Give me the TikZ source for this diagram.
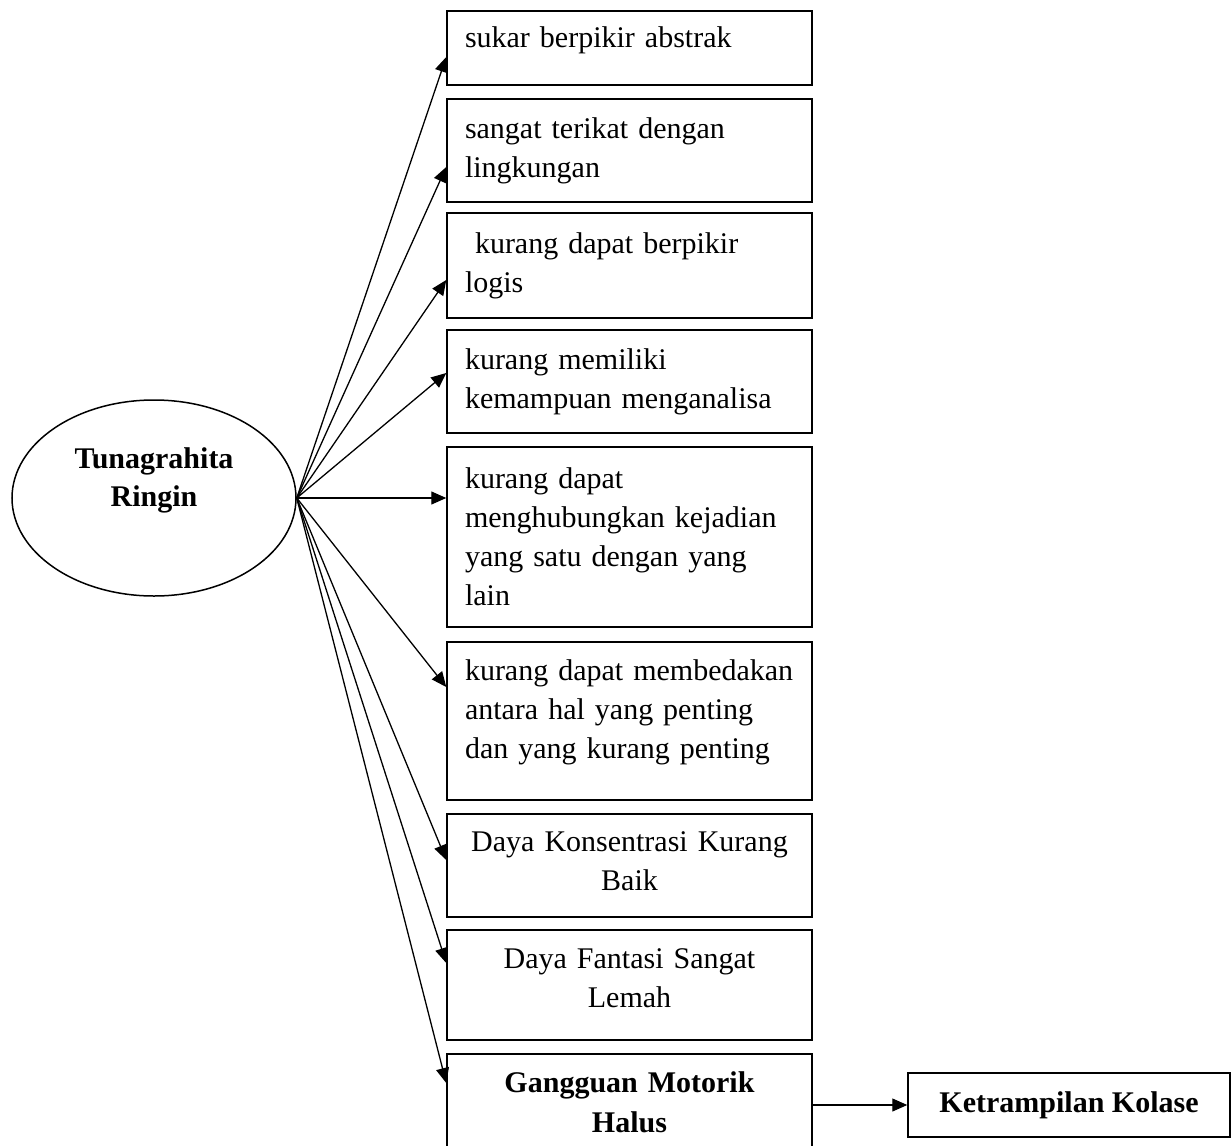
\documentclass[tikz,border=0pt]{standalone}
\usepackage{fontspec}
\setmainfont{Liberation Serif}
\usepackage{tikz}
\usetikzlibrary{shapes.geometric,arrows.meta}

\begin{document}
\begin{tikzpicture}[x=1pt,y=1pt,font=\fontsize{30}{39}\selectfont]
                \tikzstyle{every node}+=[inner sep=0pt]
                \tikzstyle{ciri}=[draw=black,line width=1.5pt,rectangle,minimum width=365pt,text width=329pt,inner xsep=18pt,align=left]
                \tikzstyle{ciritengah}=[ciri,align=center]
                \tikzstyle{panah}=[black,line width=1.3pt,-{Triangle[length=15pt,width=13pt]}]
                \useasboundingbox (0,0) rectangle (1232,-1146);
                \node [draw=black,line width=1.5pt,ellipse,minimum width=284pt,minimum height=196pt,text width=190pt,align=center,font=\fontsize{30}{38}\selectfont\bfseries,text depth=80pt] (tr) at (154,-498) {Tunagrahita\\Ringin};
                \node [ciri,minimum height=74pt,text depth=22pt] (c1) at (629.5,-48) {sukar berpikir abstrak};
                \node [ciri,minimum height=103pt] (c2) at (629.5,-150.5) {sangat terikat dengan\\lingkungan};
                \node [ciri,minimum height=105pt] (c3) at (629.5,-265.5) {\ kurang dapat berpikir\\logis};
                \node [ciri,minimum height=103pt] (c4) at (629.5,-381.5) {kurang memiliki\\kemampuan menganalisa};
                \node [ciri,minimum height=180pt] (c5) at (629.5,-537) {kurang dapat\\menghubungkan kejadian\\yang satu dengan yang\\lain};
                \node [ciri,minimum height=158pt,text depth=102pt] (c6) at (629.5,-721) {kurang dapat membedakan\\antara hal yang penting\\dan yang kurang penting};
                \node [ciritengah,minimum height=103pt,text depth=47pt] (c7) at (629.5,-865.5) {Daya Konsentrasi Kurang\\Baik};
                \node [ciritengah,minimum height=110pt,text depth=52pt] (c8) at (629.5,-985) {Daya Fantasi Sangat\\Lemah};
                \node [ciritengah,minimum height=96pt,font=\fontsize{30}{40}\selectfont\bfseries] (c9) at (629.5,-1102) {Gangguan Motorik\\Halus};
                \node [draw=black,line width=1.5pt,rectangle,minimum width=322pt,minimum height=64pt,font=\fontsize{30}{39}\selectfont\bfseries] (kol) at (1069,-1105) {Ketrampilan Kolase};
                \draw [panah] (tr.east) -- ([yshift=-9pt]c1.west);
                \draw [panah] (tr.east) -- ([yshift=-16.5pt]c2.west);
                \draw [panah] (tr.east) -- ([yshift=-14.5pt]c3.west);
                \draw [panah] (tr.east) -- ([yshift=8.5pt]c4.west);
                \draw [panah] (tr.east) -- (tr.east -| c5.west);
                \draw [panah] (tr.east) -- ([yshift=34pt]c6.west);
                \draw [panah] (tr.east) -- ([yshift=5.5pt]c7.west);
                \draw [panah] (tr.east) -- ([yshift=22pt]c8.west);
                \draw [panah] (tr.east) -- ([yshift=19pt]c9.west);
                \draw [panah] (kol.west -| c9.east) -- (kol.west);
\end{tikzpicture}
\end{document}
